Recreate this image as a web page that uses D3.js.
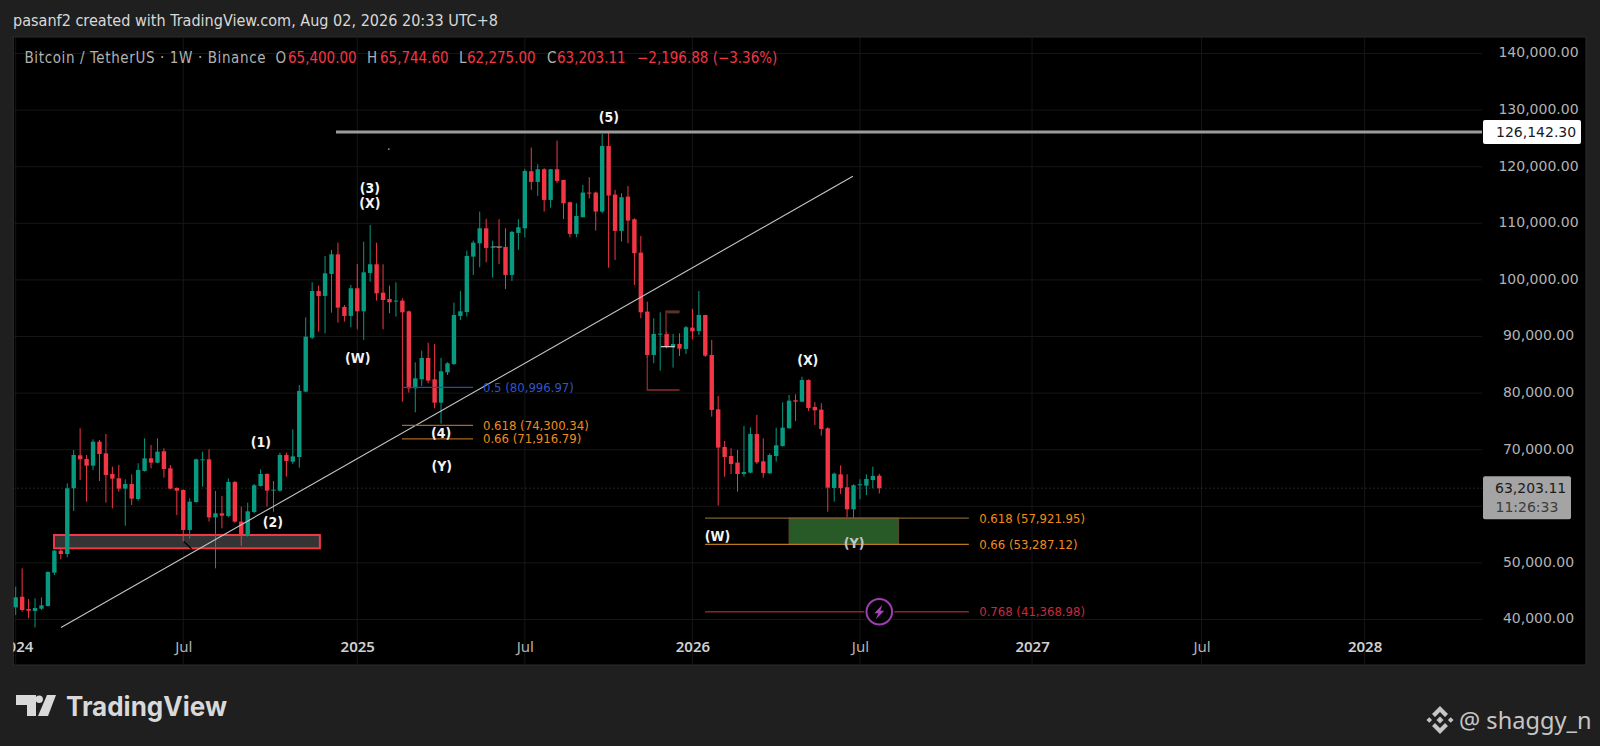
<!DOCTYPE html>
<html><head><meta charset="utf-8">
<script src="https://cdn.jsdelivr.net/npm/d3@7"></script>
<style>
html,body{margin:0;padding:0;background:#1f1f1f;overflow:hidden}
svg{display:block}
text{font-family:"DejaVu Sans",sans-serif}
.cond{font-family:"DejaVu Sans Condensed","DejaVu Sans",sans-serif;font-stretch:condensed}
</style></head><body>
<svg id="c" width="1600" height="746"></svg>
<script>
// weekly candles starting Mon 1 Jan 2024, prices in thousands of USDT
const opens=[42.15,44.03,41.86,41.50,41.91,42.39,48.28,52.16,51.57,63.18,
69.01,68.36,67.18,71.42,69.36,65.71,64.95,63.12,63.94,61.29,
66.24,68.48,67.71,69.72,66.71,63.24,62.88,55.82,60.76,68.13,
68.30,58.05,58.76,58.29,64.30,57.29,54.81,58.99,63.59,65.71,
62.77,62.77,69.07,67.89,68.71,80.26,89.80,98.04,97.16,101.05,
104.52,95.22,93.63,98.52,94.45,101.23,102.76,97.75,96.63,96.16,
96.34,94.45,80.85,82.44,86.21,82.44,78.31,83.67,85.15,93.63,
94.33,104.11,106.47,109.12,105.71,105.83,105.83,100.88,108.30,109.12,
119.20,117.31,119.55,114.13,119.55,117.66,113.72,108.12,111.07,115.43,
115.43,112.07,123.67,115.07,108.65,114.72,110.71,104.82,94.40,86.74,
90.33,90.45,88.21,88.68,87.80,91.57,90.98,93.80,86.74,77.14,
70.48,68.89,67.72,65.71,65.95,72.78,67.95,65.83,68.89,70.66,
73.78,78.73,78.49,82.32,77.55,77.08,73.78,63.24,65.65,63.36,
59.47,63.71,63.65,64.65,65.40];
const closes=[43.92,41.68,41.56,42.03,42.50,48.39,52.16,51.57,63.18,69.07,
68.30,67.18,71.42,69.24,65.53,64.89,63.12,63.94,61.35,66.42,
68.48,67.71,69.66,66.59,63.12,62.77,55.82,60.82,68.30,68.30,
58.05,58.76,58.35,64.30,57.29,54.81,59.11,63.71,65.71,62.77,
62.94,69.07,68.01,68.83,80.38,89.97,98.04,97.16,101.17,104.52,
95.10,93.63,98.52,94.45,101.34,102.76,97.63,96.45,96.04,96.34,
94.27,80.85,82.61,86.21,82.20,78.31,83.85,85.26,93.80,94.45,
104.23,106.58,109.12,105.65,105.88,105.71,100.88,108.48,109.30,119.25,
117.31,119.55,114.13,119.55,117.49,113.54,108.12,111.30,115.43,115.25,
112.07,123.67,114.90,108.65,114.60,110.48,104.71,94.28,86.74,90.45,
90.51,88.21,88.68,87.86,91.63,90.92,93.80,86.62,77.02,70.37,
68.72,67.48,65.71,66.07,72.78,67.77,65.89,69.07,70.78,73.90,
78.67,78.49,82.32,77.37,76.96,73.66,63.30,65.77,63.24,59.47,
63.71,63.89,64.83,65.36,63.20311];
const highs=[45.80,49.04,43.62,43.74,43.92,48.51,52.28,52.57,64.06,69.95,
73.78,69.07,71.84,71.72,72.78,67.01,67.30,64.77,65.65,67.60,
72.01,70.83,72.01,70.25,67.30,63.35,63.00,61.41,68.42,69.66,
70.07,62.71,61.82,64.95,64.47,59.94,60.64,63.94,66.53,65.83,
64.47,69.48,69.48,73.60,81.43,93.39,99.58,98.99,104.23,105.29,
106.58,95.57,99.10,102.82,106.76,109.71,106.58,102.76,98.99,99.58,
96.75,94.57,85.44,87.50,88.91,88.68,86.21,85.44,95.98,98.04,
105.17,106.94,112.06,110.77,106.94,110.71,109.12,108.65,110.71,119.61,
123.38,120.43,119.73,119.61,124.61,117.66,113.84,113.54,116.78,118.14,
115.60,125.79,126.1423,115.90,115.31,116.60,110.89,107.77,96.16,93.22,
94.28,90.90,90.45,90.57,91.87,94.87,98.05,93.80,89.39,79.49,
71.54,70.25,69.95,74.19,73.96,76.14,72.01,69.36,73.90,78.38,
79.67,79.79,82.91,82.44,78.38,78.20,73.96,65.95,67.24,65.65,
63.89,64.77,65.65,67.01,65.7446];
const lows=[40.80,41.38,40.21,38.60,41.68,42.27,47.86,50.63,50.99,59.17,
64.65,60.82,66.42,64.47,60.64,59.64,62.59,56.58,60.23,61.00,
66.12,66.71,67.60,65.06,63.00,58.47,53.75,54.28,60.64,63.47,
57.29,49.04,56.11,58.05,57.11,52.99,54.64,58.76,63.47,59.94,
59.05,62.59,65.24,67.48,66.83,80.14,89.56,90.86,90.56,94.22,
92.45,92.63,91.62,91.27,89.39,99.69,96.34,91.27,94.10,93.51,
78.49,80.08,76.60,81.26,81.73,77.31,74.60,83.20,84.97,92.92,
93.51,100.87,102.23,103.12,100.41,102.82,98.40,99.82,105.30,107.53,
115.90,114.84,112.07,112.78,117.08,110.77,107.53,107.53,111.07,114.42,
108.71,111.77,102.17,103.53,106.77,106.47,99.11,93.22,86.20,85.27,
83.97,87.92,84.50,86.56,86.92,89.51,90.27,86.40,75.84,60.12,
65.24,65.71,62.59,65.24,65.83,67.48,65.06,65.71,67.89,70.54,
73.78,75.08,78.38,76.84,74.37,72.49,59.06,60.82,62.18,58.06,
57.88,61.24,62.00,63.18,62.275];

const priceTicks=[40,50,60,70,80,90,100,110,120,130,140];
const priceLabels=["40,000.00","50,000.00","","70,000.00","80,000.00","90,000.00","100,000.00","110,000.00","120,000.00","130,000.00","140,000.00"];
const timeTicks=[0,26,53,79,105,131,157.7,184,209.3];
const timeLabels=["2024","Jul","2025","Jul","2026","Jul","2027","Jul","2028"];

const fibUpper=[{t:"0.5 (80,996.97)",p:80.99697,line:"#2a4aa8",txt:"#2f55c4"},
 {t:"0.618 (74,300.34)",p:74.30034,line:"#a8681f",txt:"#f08c1a"},
 {t:"0.66 (71,916.79)",p:71.91679,line:"#a8681f",txt:"#f08c1a"}];
const fibLower=[{t:"0.618 (57,921.95)",p:57.92195,line:"#7c6236",txt:"#f08c1a"},
 {t:"0.66 (53,287.12)",p:53.28712,line:"#b97a1e",txt:"#f08c1a"},
 {t:"0.768 (41,368.98)",p:41.36898,line:"#8f2230",txt:"#c9293f"}];
const waves=[["(1)",38.06,71.42],["(2)",39.9,57.28],["(3)",54.97,116.25],["(X)",54.97,113.6],["(W)",53.07,86.2],
 ["(4)",66,73.0],["(Y)",66.1,67.1],["(5)",92.05,128.8],["(X)",122.9,85.85],["(W)",108.9,54.75],["(Y)",130.1,53.5]];

const P={l:13.3,r:1586,t:37,b:665,axisX:1482};
const x=d3.scaleLinear().domain([0,134]).range([15.7,879.3]);
const y=d3.scaleLinear().domain([40,140]).range([619.5,53.5]);
const svg=d3.select("#c");
const up="#089981",dn="#f23645";

svg.append("rect").attr("width",1600).attr("height",746).attr("fill","#1f1f1f");
svg.append("rect").attr("x",P.l).attr("y",P.t).attr("width",P.r-P.l).attr("height",P.b-P.t).attr("fill","#000").attr("stroke","#2c2c2c");
svg.append("clipPath").attr("id","pane").append("rect").attr("x",P.l).attr("y",P.t).attr("width",P.axisX-P.l).attr("height",P.b-P.t);
svg.append("clipPath").attr("id","timeAxis").append("rect").attr("x",P.l).attr("y",P.t).attr("width",P.r-P.l).attr("height",P.b-P.t);

// grid
const grid=svg.append("g").attr("clip-path","url(#pane)").attr("stroke","#161616").attr("stroke-width",1);
grid.selectAll("line.h").data(priceTicks).join("line").attr("class","h")
 .attr("x1",P.l).attr("x2",P.axisX).attr("y1",d=>y(d)).attr("y2",d=>y(d));
grid.selectAll("line.v").data(timeTicks).join("line").attr("class","v")
 .attr("y1",P.t).attr("y2",P.b).attr("x1",d=>x(d)).attr("x2",d=>x(d));

// axes
const yAxis=svg.append("g").attr("transform",`translate(${1538.5},-1)`)
 .call(d3.axisRight(y).tickValues(priceTicks).tickFormat((d,i)=>priceLabels[i]).tickSize(0).tickPadding(0));
yAxis.select(".domain").remove();
yAxis.selectAll("text").attr("text-anchor","middle").attr("fill","#b2b2b2").style("font-size","14px").style("font-family",'"DejaVu Sans"');
const xAxis=svg.append("g").attr("clip-path","url(#timeAxis)").append("g").attr("transform",`translate(0,${641.5})`)
 .call(d3.axisBottom(x).tickValues(timeTicks).tickFormat((d,i)=>timeLabels[i]).tickSize(0).tickPadding(0));
xAxis.select(".domain").remove();
xAxis.selectAll("text").attr("fill",(d,i)=>timeLabels[i]==="Jul"?"#b2b2b2":"#cfcfcf")
 .style("font-size","15px").style("font-family",'"Noto Sans"').style("font-weight",(d,i)=>timeLabels[i]==="Jul"?400:600);

const pane=svg.append("g").attr("clip-path","url(#pane)");
// current price dotted
pane.append("line").attr("x1",P.l).attr("x2",P.axisX).attr("y1",y(closes[134])).attr("y2",y(closes[134]))
 .attr("stroke","#4a4a4a").attr("stroke-dasharray","1 3");

// demand rectangle
pane.append("rect").attr("x",x(5.94)).attr("y",y(54.93)).attr("width",x(47.2)-x(5.94)).attr("height",y(52.58)-y(54.93))
 .attr("fill","#343434").attr("stroke","#f23645").attr("stroke-width",2);
pane.append("line").attr("x1",x(26)).attr("x2",x(27.3)).attr("y1",y(53.87)).attr("y2",y(52.46)).attr("stroke","#000").attr("stroke-width",1.2);
// target zone
pane.append("rect").attr("x",x(120)).attr("y",y(57.92195)).attr("width",x(137)-x(120)).attr("height",y(53.28712)-y(57.92195))
 .attr("fill","#285a28").attr("stroke","#5a4a2a").attr("stroke-width",1);

// candles
const idx=d3.range(opens.length);
pane.append("g").selectAll("line").data(idx).join("line")
 .attr("x1",i=>x(i)).attr("x2",i=>x(i)).attr("y1",i=>y(highs[i])).attr("y2",i=>y(lows[i]))
 .attr("stroke",i=>closes[i]>=opens[i]?up:dn).attr("stroke-width",1);
pane.append("g").selectAll("rect").data(idx).join("rect")
 .attr("x",i=>x(i)-2.2).attr("width",4.4)
 .attr("y",i=>y(Math.max(opens[i],closes[i])))
 .attr("height",i=>Math.max(1,Math.abs(y(opens[i])-y(closes[i]))))
 .attr("fill",i=>closes[i]>=opens[i]?up:dn);

// small drawings
const lineP=(pts,col,w)=>pane.append("path").attr("d",d3.line().x(d=>x(d[0])).y(d=>y(d[1]))(pts)).attr("fill","none").attr("stroke",col).attr("stroke-width",w);
lineP([[98,86.74],[98,80.55],[103,80.55]],"#8f2a33",1.3);
lineP([[100.9,90.3],[100.9,94.5],[103,94.5]],"#8f2a33",1.3);
lineP([[101,94.3],[103,94.3]],"#4b3a22",2.5);
lineP([[100.1,88.2],[102.3,88.2]],"#d8d8d8",1.2);
lineP([[73.9,105.84],[75.5,105.84]],"#8a8a8a",1);
lineP([[57.8,123.1],[58,123.1]],"#ddd",1.2);

// trend line
lineP([[7.03,38.6],[129.9,118.3]],"#c6c6c6",1.1);
// ATH line
pane.append("line").attr("x1",x(49.7)).attr("x2",P.axisX).attr("y1",y(126.1423)).attr("y2",y(126.1423)).attr("stroke","#9c9c9c").attr("stroke-width",3);

// fib lines
function fibs(arr,i0,i1,it){
 arr.forEach(f=>{
  pane.append("line").attr("x1",x(i0)).attr("x2",x(i1)).attr("y1",y(f.p)).attr("y2",y(f.p)).attr("stroke",f.line).attr("stroke-width",1.3);
  pane.append("text").attr("class","cond").attr("x",x(it)).attr("y",y(f.p)).attr("dy","0.35em").attr("fill",f.txt).attr("font-size",13).text(f.t);
 });
}
fibs(fibUpper,59.94,70.96,72.5);
fibs(fibLower,106.96,147.9,149.5);

// lightning marker
const m=pane.append("g").attr("transform",`translate(${x(134)},${y(41.36898)})`);
m.append("circle").attr("r",15).attr("fill","#000");
m.append("circle").attr("r",12.8).attr("fill","#000").attr("stroke","#9c3fb0").attr("stroke-width",2);
m.append("path").attr("d","M3,-7 L-5,1.5 L-1,1.5 L-3.5,7.5 L5,-1 L1,-1 Z").attr("fill","#a745bd");

// wave labels
pane.selectAll("text.w").data(waves).join("text").attr("class","w cond")
 .attr("x",d=>x(d[1])).attr("y",d=>y(d[2])).attr("dy","0.35em").attr("text-anchor","middle")
 .attr("fill",(d,i)=>i===10?"#c4c4c4":"#f4f4f4").attr("font-size",14).attr("font-weight",700).text(d=>d[0]);

// price tags
const tag=svg.append("g");
tag.append("rect").attr("x",1483).attr("y",y(126.1423)-12).attr("width",98).attr("height",24).attr("rx",2).attr("fill","#fff");
tag.append("text").attr("x",1496).attr("y",y(126.1423)).attr("dy","0.35em").attr("font-size",14).attr("fill","#1a1a1a").text("126,142.30");
tag.append("rect").attr("x",1483).attr("y",y(63.20311)-12).attr("width",88).attr("height",43).attr("rx",2).attr("fill","#a4a4a4");
tag.append("text").attr("x",1495).attr("y",y(63.20311)).attr("dy","0.35em").attr("font-size",14).attr("fill","#1a1a1a").text("63,203.11");
tag.append("text").attr("x",1495.5).attr("y",y(63.20311)+19).attr("dy","0.35em").attr("font-size",14).attr("fill","#3c3c3c").text("11:26:33");

// header
svg.append("text").attr("class","cond").attr("x",13).attr("y",25.5).attr("font-size",15).attr("font-weight",500).attr("fill","#d8d8d8")
 .attr("textLength",485).attr("lengthAdjust","spacingAndGlyphs").text("pasanf2 created with TradingView.com, Aug 02, 2026 20:33 UTC+8");
const legendParts=[[24.5,"Bitcoin / TetherUS · 1W · Binance","#b2b2b2",241],[275.5,"O","#b2b2b2"],[288,"65,400.00",dn],[367,"H","#b2b2b2"],[380,"65,744.60",dn],
 [459,"L","#b2b2b2"],[467,"62,275.00",dn],[547,"C","#b2b2b2"],[557,"63,203.11",dn],[637,"−2,196.88 (−3.36%)",dn]];
svg.append("g").selectAll("text").data(legendParts).join("text").attr("class","cond").attr("x",d=>d[0]).attr("y",62.5).attr("font-size",15)
 .attr("fill",d=>d[2]).attr("textLength",d=>d[3]||null).text(d=>d[1]);

// footer logo
const lg=svg.append("g").attr("fill","#d9d9d9");
lg.append("path").attr("d","M16,695 L36,695 L36,716 L27,716 L27,705 L16,705 Z");
lg.append("circle").attr("cx",39.2).attr("cy",699.2).attr("r",3.7);
lg.append("path").attr("d","M47,695 L56,695 L48,716 L38,716 Z");
lg.append("text").attr("x",66).attr("y",715.5).attr("font-size",27).attr("font-weight",700).style("font-family","Inter").attr("textLength",161).attr("lengthAdjust","spacingAndGlyphs").text("TradingView");

// watermark
const bn=svg.append("g").attr("transform","translate(1440,720)").attr("fill","#c6c6c6");
[[0,-9.5],[0,9.5]].forEach(c=>bn.append("path").attr("d",c[1]<0?"M0,-14 L8,-6 L5,-3 L0,-8 L-5,-3 L-8,-6 Z":"M0,14 L8,6 L5,3 L0,8 L-5,3 L-8,6 Z"));
bn.append("path").attr("d","M0,-3.5 L3.5,0 L0,3.5 L-3.5,0 Z");
bn.append("path").attr("d","M-13.5,0 L-10.7,-2.8 L-7.9,0 L-10.7,2.8 Z");
bn.append("path").attr("d","M13.5,0 L10.7,-2.8 L7.9,0 L10.7,2.8 Z");
svg.append("text").attr("x",1459).attr("y",729).attr("font-size",23.6).attr("fill","#c6c6c6").style("font-family","Noto Sans").text("@ shaggy_n");
</script></body></html>
